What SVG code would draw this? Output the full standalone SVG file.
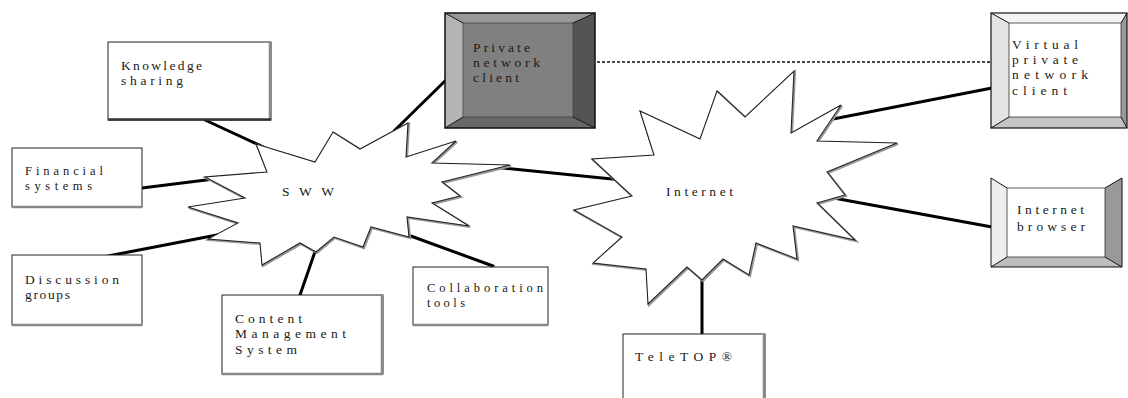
<svg xmlns="http://www.w3.org/2000/svg" width="1128" height="398" viewBox="0 0 1128 398">
<style>
text{font-family:"Liberation Serif","Times New Roman",serif;font-size:13.5px;fill:#1a1a1a}
.sm{font-size:12.5px}
.box{fill:#fff;stroke:#222;stroke-width:1}
.sh{stroke:#888;stroke-width:2.5;fill:none}
.shb{stroke:#333;stroke-width:2.5;fill:none}
.conn{stroke:#000;stroke-width:3;fill:none;stroke-linecap:round}
.star{fill:#fff;stroke:#222;stroke-width:1.1;stroke-linejoin:miter}
.starsh{fill:none;stroke:#999;stroke-width:2.2}
.edge{fill:none;stroke:#111;stroke-width:1}
</style>
<rect width="1128" height="398" fill="#fff"/>
<g id="connectors">
<line class="conn" x1="205" y1="120" x2="270" y2="150"/>
<line class="conn" x1="142" y1="188" x2="222" y2="178"/>
<line class="conn" x1="108" y1="256" x2="222" y2="234"/>
<line class="conn" x1="300" y1="295" x2="318" y2="243"/>
<line class="conn" x1="408" y1="235" x2="493" y2="266"/>
<line class="conn" x1="394" y1="131" x2="446" y2="80"/>
<line class="conn" x1="492" y1="167" x2="622" y2="180"/>
<line class="conn" x1="828" y1="120" x2="992" y2="88"/>
<line class="conn" x1="828" y1="197" x2="992" y2="227"/>
<line class="conn" x1="702" y1="272" x2="702" y2="334"/>
<line x1="597" y1="62" x2="992" y2="62" stroke="#111" stroke-width="1.5" stroke-dasharray="3,2"/>
</g>
<g id="sww">
<polygon class="starsh" transform="translate(1,1)" points="256,144 267,172 205,177 245,198 188,207 238,223 208,239 260,243 262,265 300,243 316,252 334,237 363,247 371,227 409,237 407,217 469,226 432,203 460,196 442,182 510,165 432,163 456,141 406,157 408,123 360,149 333,132 315,162"/>
<polygon class="star" points="256,144 267,172 205,177 245,198 188,207 238,223 208,239 260,243 262,265 300,243 316,252 334,237 363,247 371,227 409,237 407,217 469,226 432,203 460,196 442,182 510,165 432,163 456,141 406,157 408,123 360,149 333,132 315,162"/>
<text x="282" y="196" textLength="52" lengthAdjust="spacing" fill="#333">SWW</text>
</g>
<g id="internet">
<polygon class="starsh" transform="translate(1,1)" points="794,71 791,133 841,105 817,141 897,143 827,172 845,195 817,203 855,240 793,226 797,259 756,243 749,275 723,259 702,280 687,267 648,304 646,269 593,263 622,237 574,210 632,196 592,159 654,155 640,111 700,139 717,91 745,117"/>
<polygon class="star" points="794,71 791,133 841,105 817,141 897,143 827,172 845,195 817,203 855,240 793,226 797,259 756,243 749,275 723,259 702,280 687,267 648,304 646,269 593,263 622,237 574,210 632,196 592,159 654,155 640,111 700,139 717,91 745,117"/>
<text x="666" y="196" textLength="67" lengthAdjust="spacing">Internet</text>
</g>
<g id="knowledge">
<rect class="box" x="108" y="42" width="163" height="78"/>
<line class="sh" x1="270" y1="42" x2="270" y2="120"/>
<line class="shb" x1="108" y1="119.5" x2="271" y2="119.5"/>
<text x="121" y="70" textLength="81" lengthAdjust="spacing">Knowledge</text>
<text x="121" y="85" textLength="62" lengthAdjust="spacing">sharing</text>
</g>
<g id="financial">
<rect class="box" x="12" y="148" width="130" height="59"/>
<line class="sh" x1="12" y1="207" x2="142" y2="207"/>
<text class="sm" x="25" y="175" textLength="78" lengthAdjust="spacing">Financial</text>
<text class="sm" x="25" y="190" textLength="67" lengthAdjust="spacing">systems</text>
</g>
<g id="discussion">
<rect class="box" x="12" y="255" width="130" height="70"/>
<line class="sh" x1="12" y1="325" x2="142" y2="325"/>
<text x="25" y="284" textLength="94" lengthAdjust="spacing">Discussion</text>
<text x="25" y="299" textLength="45" lengthAdjust="spacing">groups</text>
</g>
<g id="cms">
<rect class="box" x="222" y="295" width="161" height="79"/>
<line class="sh" x1="382" y1="295" x2="382" y2="374"/>
<line class="sh" x1="222" y1="374" x2="383" y2="374"/>
<text x="235" y="323" textLength="67" lengthAdjust="spacing">Content</text>
<text x="235" y="338" textLength="111" lengthAdjust="spacing">Management</text>
<text x="235" y="354" textLength="62" lengthAdjust="spacing">System</text>
</g>
<g id="collaboration">
<rect class="box" x="413" y="267" width="135" height="58"/>
<line class="sh" x1="413" y1="325" x2="548" y2="325"/>
<text class="sm" x="427" y="292" textLength="116" lengthAdjust="spacing">Collaboration</text>
<text class="sm" x="427" y="307" textLength="38" lengthAdjust="spacing">tools</text>
</g>
<g id="private-client">
<polygon points="445,13 463,23 463,117 445,128" fill="#b4b4b4"/>
<polygon points="445,13 595,13 573,23 463,23" fill="#999"/>
<polygon points="595,13 595,128 573,117 573,23" fill="#545454"/>
<polygon points="445,128 595,128 573,117 463,117" fill="#686868"/>
<rect x="463" y="23" width="110" height="94" fill="#808080" stroke="#444" stroke-width="0.8"/>
<path class="edge" d="M445,13L463,23M595,13L573,23M595,128L573,117M445,128L463,117"/>
<rect x="445" y="13" width="150" height="115" fill="none" stroke="#111" stroke-width="1.5"/>
<text x="473" y="52" textLength="57" lengthAdjust="spacing" fill="#eee">Private</text>
<text x="473" y="67" textLength="67" lengthAdjust="spacing" fill="#eee">network</text>
<text x="473" y="82" textLength="46" lengthAdjust="spacing" fill="#eee">client</text>
</g>
<g id="vpn-client">
<polygon points="991,13 1009,23 1009,117 991,128" fill="#e4e4e4"/>
<polygon points="991,13 1127,13 1121,23 1009,23" fill="#f4f4f4"/>
<polygon points="1127,13 1127,128 1121,117 1121,23" fill="#999"/>
<polygon points="991,128 1127,128 1121,117 1009,117" fill="#c4c4c4"/>
<rect x="1009" y="23" width="112" height="94" fill="#fff" stroke="#333" stroke-width="0.8"/>
<path class="edge" d="M991,13L1009,23M1127,13L1121,23M1127,128L1121,117M991,128L1009,117"/>
<rect x="991" y="13" width="136" height="115" fill="none" stroke="#111" stroke-width="1.2"/>
<text x="1012" y="49" textLength="66" lengthAdjust="spacing">Virtual</text>
<text x="1012" y="64" textLength="66" lengthAdjust="spacing">private</text>
<text x="1012" y="79" textLength="76" lengthAdjust="spacing">network</text>
<text x="1012" y="95" textLength="55" lengthAdjust="spacing">client</text>
</g>
<g id="browser">
<polygon points="991,178 1007,188 1007,257 991,267" fill="#eee"/>
<polygon points="1122,178 1122,267 1105,257 1105,188" fill="#999"/>
<polygon points="991,267 1122,267 1105,257 1007,257" fill="#bdbdbd"/>
<rect x="1007" y="188" width="98" height="69" fill="#fff" stroke="#333" stroke-width="0.8"/>
<path class="edge" d="M991,178L1007,188M1122,178L1105,188M1122,267L1105,257M991,267L1007,257M991,178L991,267L1122,267L1122,178"/>
<text x="1017" y="214" textLength="67" lengthAdjust="spacing">Internet</text>
<text x="1017" y="231" textLength="68" lengthAdjust="spacing">browser</text>
</g>
<g id="teletop">
<rect class="box" x="623" y="334" width="142" height="70"/>
<line class="sh" x1="764" y1="334" x2="764" y2="398"/>
<text x="635" y="361" textLength="97" lengthAdjust="spacing">TeleTOP®</text>
</g>
</svg>
